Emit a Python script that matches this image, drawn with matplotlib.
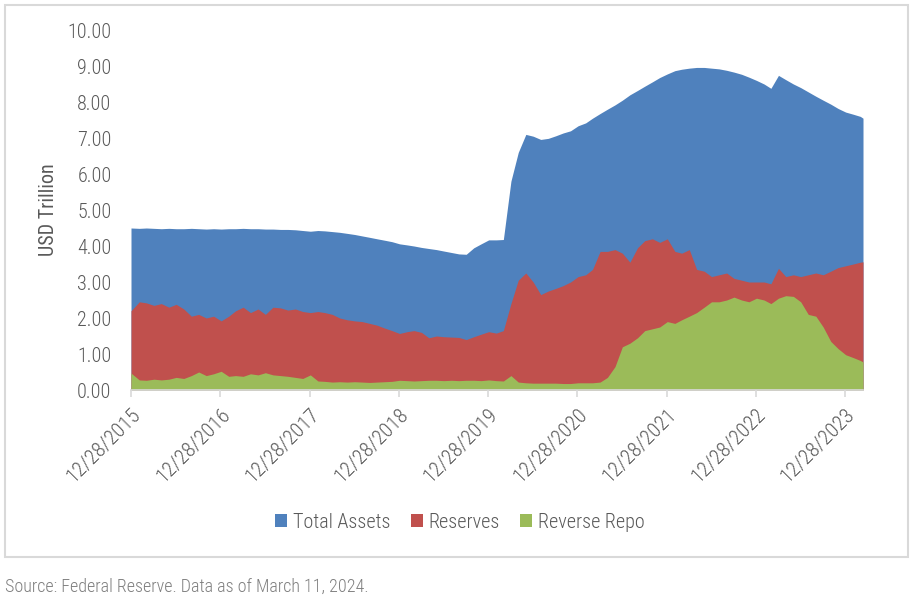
import numpy as np
import pandas as pd
import matplotlib
matplotlib.use('Agg')
import matplotlib.pyplot as plt
from matplotlib.patches import Rectangle

plt.rcParams['font.family'] = ['Roboto Condensed', 'DejaVu Sans']
plt.rcParams['font.weight'] = 'light'

# month-end dates, plus first and last data dates
dates = pd.to_datetime(['2015-12-28'] +
                       [d.strftime('%Y-%m-%d') for d in pd.date_range('2016-01-31', '2024-02-29', freq='ME')] +
                       ['2024-03-11'])

total_assets = [4.50,
    4.49, 4.50, 4.49, 4.48, 4.49, 4.48, 4.48, 4.49, 4.48, 4.47, 4.48, 4.47,
    4.48, 4.48, 4.49, 4.48, 4.48, 4.47, 4.47, 4.46, 4.46, 4.45, 4.43, 4.41,
    4.43, 4.42, 4.40, 4.38, 4.35, 4.32, 4.28, 4.24, 4.20, 4.16, 4.12, 4.06,
    4.03, 4.00, 3.96, 3.93, 3.90, 3.86, 3.82, 3.78, 3.77, 3.95, 4.06, 4.17,
    4.17, 4.18, 5.80, 6.60, 7.10, 7.05, 6.96, 6.99, 7.06, 7.14, 7.20, 7.34,
    7.42, 7.55, 7.68, 7.80, 7.92, 8.05, 8.20, 8.32, 8.44, 8.56, 8.68, 8.78,
    8.87, 8.91, 8.94, 8.96, 8.96, 8.94, 8.92, 8.88, 8.83, 8.77, 8.69, 8.60,
    8.50, 8.38, 8.74, 8.62, 8.50, 8.40, 8.28, 8.16, 8.05, 7.94, 7.82, 7.72,
    7.66, 7.60, 7.55]

reserves = [2.20,
    2.45, 2.42, 2.35, 2.40, 2.30, 2.38, 2.25, 2.05, 2.10, 2.00, 2.05, 1.92,
    2.05, 2.20, 2.30, 2.15, 2.25, 2.10, 2.30, 2.28, 2.22, 2.25, 2.18, 2.15,
    2.18, 2.15, 2.10, 2.00, 1.95, 1.92, 1.90, 1.85, 1.80, 1.72, 1.65, 1.57,
    1.62, 1.65, 1.60, 1.45, 1.50, 1.48, 1.47, 1.46, 1.40, 1.48, 1.55, 1.62,
    1.58, 1.65, 2.40, 3.05, 3.25, 3.00, 2.65, 2.75, 2.82, 2.90, 3.00, 3.15,
    3.20, 3.35, 3.85, 3.85, 3.90, 3.80, 3.55, 3.95, 4.15, 4.20, 4.10, 4.20,
    3.85, 3.80, 3.90, 3.35, 3.30, 3.15, 3.20, 3.25, 3.10, 3.05, 3.00, 3.00,
    3.00, 2.95, 3.38, 3.15, 3.20, 3.15, 3.20, 3.25, 3.20, 3.30, 3.40, 3.45,
    3.50, 3.55, 3.56]

reverse_repo = [0.47,
    0.28, 0.27, 0.30, 0.28, 0.30, 0.35, 0.32, 0.40, 0.50, 0.40, 0.45, 0.52,
    0.38, 0.40, 0.38, 0.45, 0.42, 0.48, 0.42, 0.40, 0.38, 0.35, 0.32, 0.42,
    0.25, 0.24, 0.22, 0.23, 0.22, 0.23, 0.22, 0.21, 0.22, 0.23, 0.24, 0.27,
    0.26, 0.25, 0.26, 0.27, 0.27, 0.26, 0.27, 0.26, 0.27, 0.27, 0.26, 0.28,
    0.26, 0.25, 0.40, 0.22, 0.20, 0.19, 0.19, 0.19, 0.19, 0.18, 0.18, 0.20,
    0.20, 0.20, 0.22, 0.35, 0.65, 1.20, 1.30, 1.45, 1.65, 1.70, 1.75, 1.90,
    1.85, 1.95, 2.05, 2.15, 2.30, 2.45, 2.45, 2.50, 2.58, 2.50, 2.45, 2.55,
    2.50, 2.40, 2.55, 2.62, 2.60, 2.45, 2.10, 2.05, 1.75, 1.35, 1.15, 0.98,
    0.90, 0.82, 0.78]

tick_dates = pd.to_datetime(['12/28/%d' % y for y in range(2015, 2024)])
tick_labels = ['12/28/%d' % y for y in range(2015, 2024)]

series = [('Total Assets', total_assets, '#4F81BD'),
          ('Reserves', reserves, '#C0504D'),
          ('Reverse Repo', reverse_repo, '#9BBB59')]

fig = plt.figure(figsize=(9.1, 5.98), dpi=100)
ax = fig.add_axes([131/910, 1-390/598, (863-131)/910, 360/598])

for name, vals, col in series:
    ax.fill_between(dates, vals, 0, color=col, lw=0, label=name)

ax.set_xlim(dates[0], dates[-1])
ax.set_ylim(0, 10)
ax.set_yticks(np.arange(0, 11, 1))
ax.set_yticklabels(['%.2f' % v for v in range(11)], fontsize=14.5, color='#595959')
ax.tick_params(axis='y', length=0, pad=14)
ax.set_xticks(tick_dates)
ax.set_xticklabels(tick_labels, rotation=45, ha='right', rotation_mode='anchor',
                   fontsize=15, color='#595959')
ax.tick_params(axis='x', length=5, color='#D9D9D9', width=1.2, pad=6)
for s in ['left', 'right', 'top']:
    ax.spines[s].set_visible(False)
ax.spines['bottom'].set_color('#D9D9D9')
ax.spines['bottom'].set_linewidth(1.2)
ax.set_ylabel('USD Trillion', fontsize=14.5, color='#595959', labelpad=7)

leg = fig.legend(loc='center', bbox_to_anchor=(460/910, 1-522/598), ncol=3, frameon=False,
                 fontsize=14.5, handlelength=0.6, handleheight=0.6, handletextpad=0.3,
                 columnspacing=1.0)
for t in leg.get_texts():
    t.set_color('#595959')

fig.patches.append(Rectangle((5/910, 1-557/598), 903/910, 552/598, transform=fig.transFigure,
                             fill=False, edgecolor='#D9D9D9', lw=1.5))
fig.text(5/910, 1-592/598, 'Source: Federal Reserve. Data as of March 11, 2024.',
         fontsize=13, color='#7F7F7F', va='baseline')

fig.savefig('out.png', dpi=100)
